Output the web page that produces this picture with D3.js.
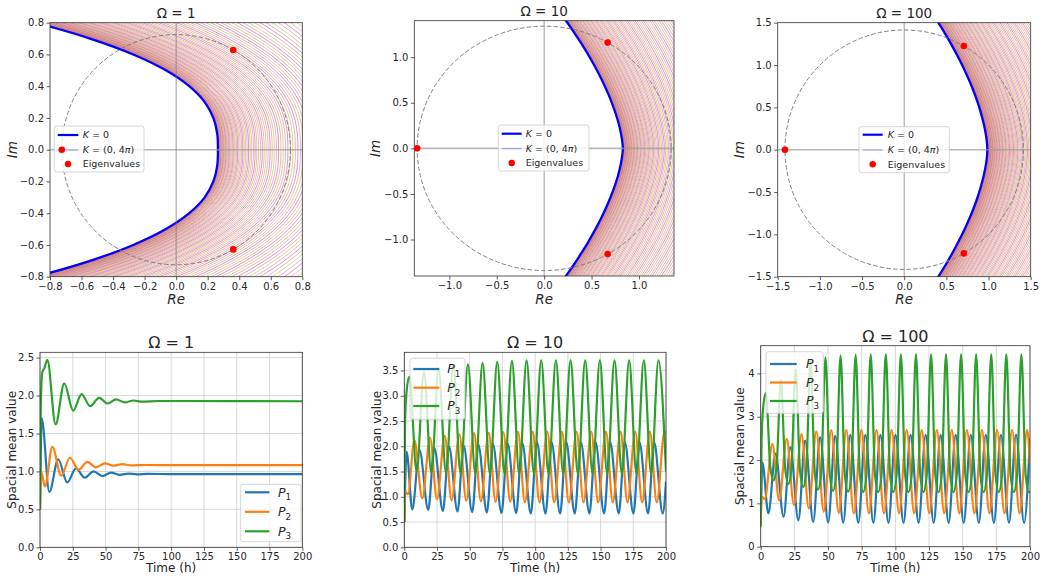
<!DOCTYPE html>
<html>
<head>
<meta charset="utf-8">
<script src="https://cdn.jsdelivr.net/npm/d3@7"></script>
<style>
  body { margin: 0; background: #fff; }
  svg text { font-family: "DejaVu Sans", sans-serif; fill: #262626; }
</style>
</head>
<body>
<div id="chart"></div>
<script>

// ---- top row: spectra (Re / Im) ----
var im1 = [-0.87,-0.8,-0.7,-0.6,-0.5,-0.4,-0.3,-0.2,-0.1,0,0.1,0.2,0.3,0.4,0.5,0.6,0.7,0.8,0.87];
var reK0_1 = [-1.18,-0.892,-0.546,-0.272,-0.065,0.083,0.181,0.236,0.2605,0.265,0.2605,0.236,0.181,0.083,-0.065,-0.272,-0.546,-0.892,-1.18];
var reOut_1 = [1.15,1.2,1.26,1.315,1.36,1.395,1.42,1.438,1.447,1.45,1.447,1.438,1.42,1.395,1.36,1.315,1.26,1.2,1.15];

var im10 = [-1.5,-1.35,-1.2,-1.05,-0.9,-0.75,-0.6,-0.45,-0.3,-0.15,0,0.15,0.3,0.45,0.6,0.75,0.9,1.05,1.2,1.35,1.5];
var reK0_10 = [0.16,0.264,0.361,0.452,0.534,0.609,0.675,0.732,0.779,0.813,0.83,0.813,0.779,0.732,0.675,0.609,0.534,0.452,0.361,0.264,0.16];
var reOut_10 = [1.5,1.595,1.68,1.755,1.82,1.875,1.92,1.955,1.98,1.995,2.0,1.995,1.98,1.955,1.92,1.875,1.82,1.755,1.68,1.595,1.5];

var im100 = [-1.6,-1.5,-1.35,-1.2,-1.05,-0.9,-0.75,-0.6,-0.45,-0.3,-0.15,0,0.15,0.3,0.45,0.6,0.75,0.9,1.05,1.2,1.35,1.5,1.6];
var reK0_100 = [0.34,0.405,0.497,0.583,0.662,0.734,0.80,0.857,0.905,0.9445,0.973,0.986,0.973,0.9445,0.905,0.857,0.80,0.734,0.662,0.583,0.497,0.405,0.34];
var reOut_100 = [1.53,1.6,1.695,1.78,1.855,1.92,1.975,2.02,2.055,2.08,2.095,2.1,2.095,2.08,2.055,2.02,1.975,1.92,1.855,1.78,1.695,1.6,1.53];

// position of each K curve between K=0 and K=4pi (0..1)
var kFrac = [.00004,.00018,.00045,.00084,.00137,.00205,.00288,.00386,.00500,.00631,.00778,.00943,.01124,.01323,
  .01540,.01774,.02027,.02299,.02589,.02898,.03227,.03575,.03943,.04331,.04737,.05164,.05610,.06078,.06565,.07073,
  .07603,.08152,.08724,.09317,.09929,.1056,.1122,.1190,.1260,.1332,.1407,.1483,.1562,.1643,.1726,.1811,.1899,
  .1989,.2082,.2176,.2273,.2372,.2474,.2578,.2684,.2793,.2904,.3016,.3132,.3250,.3371,.3493,.3618,.3746,.3876,
  .4009,.4143,.4281,.4420,.4562,.4707,.4854,.5004,.5156,.5311,.5467,.5627,.5789,.5953,.6120,.6289,.6461,.6636,
  .6813,.6994,.7175,.7360,.7547,.7738,.7930,.8126,.8324,.8524,.8727,.8932,.9139,.9351,.9566,.9780,1.0];

var eig1 = [[0.362,0.628],[0.362,-0.628],[-0.725,0]];
var eig10 = [[0.67,1.16],[0.67,-1.16],[-1.34,0]];
var eig100 = [[0.707,1.225],[0.707,-1.225],[-1.414,0]];
var circleR = [0.725, 1.34, 1.414];

var ticksTop1 = [-0.8,-0.6,-0.4,-0.2,0,0.2,0.4,0.6,0.8];
var ticksTop10 = [-1,-0.5,0,0.5,1];
var ticksTop100 = [-1.5,-1,-0.5,0,0.5,1,1.5];

// ---- bottom row: spatial mean values [t, value] ----
var timeTicks = [0,25,50,75,100,125,150,175,200];

var o1_P1 = [[0,0.5],[0.4,1.0],[1.3,1.70],[7.1,0.73],[13.9,1.16],[20.8,0.855],[27.4,1.04],[34.2,0.917],[40.8,1.0],
  [47.6,0.94],[54.2,0.985],[61,0.955],[67.5,0.972],[74,0.962],[82,0.967],[100,0.965],[200,0.965]];
var o1_P2 = [[0,0.5],[0.8,1.0],[3.8,0.80],[9.4,1.325],[16.2,0.943],[22.8,1.18],[29.4,1.02],[36,1.127],[42.8,1.053],
  [49.4,1.105],[56,1.075],[62.8,1.096],[70,1.08],[80,1.085],[100,1.083],[200,1.083]];
var o1_P3 = [[0,0.5],[0.5,1.8],[1.8,2.31],[3.3,2.36],[5.6,2.47],[11.9,1.62],[18.5,2.16],[25.3,1.80],[31.7,2.02],
  [38.2,1.86],[45.1,1.97],[51.7,1.895],[58,1.95],[64.6,1.91],[71.2,1.935],[78,1.92],[90,1.928],[200,1.925]];

var o10_P1 = [[0,0.5],[1.8,1.89],[6.1,0.75],[11.6,1.93],[18.3,0.74],[22.9,1.97],[29.5,0.72],[34.1,2.0],[40.7,0.71],
  [45.3,2.02],[51.9,0.70],[56.5,2.04],[63.1,0.69],[67.7,2.05],[74.3,0.68],[78.9,2.06],[85.5,0.68],[90.1,2.07],
  [96.7,0.67],[101.3,2.08],[107.9,0.67],[112.5,2.08],[119.1,0.67],[123.7,2.08],[130.3,0.67],[134.9,2.08],
  [141.5,0.67],[146.1,2.08],[152.7,0.67],[157.3,2.08],[163.9,0.67],[168.5,2.08],[175.1,0.67],[179.7,2.08],
  [186.3,0.67],[190.9,2.08],[197.5,0.67],[200,1.3]];
var o10_P2 = [[0,0.5],[0.7,1.1],[2.8,1.05],[7.7,2.12],[13.75,0.97],[19.65,2.17],[24.95,0.95],[30.85,2.21],
  [36.15,0.93],[42.05,2.24],[47.35,0.92],[53.25,2.26],[58.55,0.91],[64.45,2.27],[69.75,0.90],[75.65,2.28],
  [80.95,0.90],[86.85,2.29],[92.15,0.89],[98.05,2.29],[103.35,0.89],[109.25,2.29],[114.55,0.89],[120.45,2.29],
  [125.75,0.89],[131.65,2.29],[136.95,0.89],[142.85,2.29],[148.15,0.89],[154.05,2.29],[159.35,0.89],[165.25,2.29],
  [170.55,0.89],[176.45,2.29],[181.75,0.89],[187.65,2.29],[192.95,0.89],[198.85,2.29],[200,2.25]];
var o10_P3 = [[0,0.5],[0.6,2.5],[1.8,3.1],[3.85,3.38],[9.45,1.50],[15.05,3.47],[20.65,1.48],[26.25,3.53],
  [31.85,1.47],[37.45,3.58],[43.05,1.46],[48.65,3.62],[54.25,1.46],[59.85,3.65],[65.45,1.45],[71.05,3.67],
  [76.65,1.45],[82.25,3.69],[87.85,1.45],[93.45,3.70],[99.05,1.45],[104.65,3.70],[110.25,1.45],[115.85,3.70],
  [121.45,1.45],[127.05,3.70],[132.65,1.45],[138.25,3.70],[143.85,1.45],[149.45,3.70],[155.05,1.45],[160.65,3.70],
  [166.25,1.45],[171.85,3.70],[177.45,1.45],[183.05,3.70],[188.65,1.45],[194.25,3.70],[200,1.5]];

var o100_P1 = [[0,0.5],[1.2,1.95],[5.7,0.77],[11.0,2.15],[17.0,0.69],[22.0,2.3],[28.0,0.61],[33.0,2.45],[39.0,0.57],
  [44.1,2.53],[50.1,0.56],[55.3,2.56],[61.3,0.555],[66.5,2.58],[72.5,0.55],[77.7,2.58],[83.7,0.55],[88.9,2.58],
  [94.9,0.55],[100.1,2.58],[106.1,0.55],[111.3,2.58],[117.3,0.55],[122.5,2.58],[128.5,0.55],[133.6,2.58],
  [139.6,0.55],[144.8,2.58],[150.8,0.55],[156.0,2.58],[162.0,0.55],[167.2,2.58],[173.2,0.55],[178.4,2.58],
  [184.4,0.55],[189.6,2.58],[195.6,0.55],[200,2.5]];
var o100_P2 = [[0,0.5],[0.8,1.15],[3.0,1.1],[8.7,2.37],[13.7,1.07],[19.3,2.49],[24.7,0.96],[30.3,2.6],[35.7,0.88],
  [41.3,2.66],[46.8,0.81],[52.4,2.69],[58.0,0.78],[63.6,2.7],[69.2,0.77],[74.8,2.7],[80.4,0.77],[86.0,2.7],
  [91.6,0.77],[97.2,2.7],[102.8,0.77],[108.4,2.7],[114.0,0.77],[119.6,2.7],[125.2,0.77],[130.8,2.7],[136.3,0.77],
  [141.9,2.7],[147.5,0.77],[153.1,2.7],[158.7,0.77],[164.3,2.7],[169.9,0.77],[175.5,2.7],[181.1,0.77],[186.7,2.7],
  [192.3,0.77],[197.9,2.7],[200,1.9]];
var o100_P3 = [[0,0.45],[0.6,2.4],[1.8,3.2],[3.9,3.55],[7.1,1.85],[9.5,1.53],[11.8,1.85],[15.0,3.85],[18.2,1.8],
  [20.6,1.45],[22.8,1.8],[26.0,4.1],[29.2,1.75],[31.6,1.38],[33.8,1.75],[37.0,4.3],[40.2,1.7],[42.6,1.32],
  [44.9,1.7],[48.1,4.37],[51.3,1.68],[53.7,1.29],[56.1,1.68],[59.3,4.41],[62.5,1.66],[64.9,1.27],[67.3,1.66],
  [70.5,4.43],[73.7,1.65],[76.1,1.26],[78.5,1.65],[81.7,4.44],[84.9,1.65],[87.3,1.26],[89.7,1.65],[92.9,4.44],
  [96.1,1.65],[98.5,1.26],[100.9,1.65],[104.1,4.44],[107.3,1.65],[109.7,1.26],[112.1,1.65],[115.3,4.44],
  [118.5,1.65],[120.9,1.26],[123.3,1.65],[126.5,4.44],[129.7,1.65],[132.1,1.26],[134.4,1.65],[137.6,4.44],
  [140.8,1.65],[143.2,1.26],[145.6,1.65],[148.8,4.44],[152.0,1.65],[154.4,1.26],[156.8,1.65],[160.0,4.44],
  [163.2,1.65],[165.6,1.26],[168.0,1.65],[171.2,4.44],[174.4,1.65],[176.8,1.26],[179.2,1.65],[182.4,4.44],
  [185.6,1.65],[188.0,1.26],[190.4,1.65],[193.6,4.44],[196.8,1.65],[199.2,1.26],[200,1.27]];

var seriesColors = ["#1f77b4", "#ff7f0e", "#2ca02c"];
var familyColors = ["#e377c2", "#bcbd22", "#e377c2", "#c0605a"];

var svg = d3.select("#chart").append("svg")
    .attr("width", 1044)
    .attr("height", 580);
var defs = svg.append("defs");

function styleAxis(a) {
  a.attr("font-family", "DejaVu Sans").attr("font-size", null);
  a.select(".domain").remove();
  a.selectAll("line").attr("stroke", "#333").attr("stroke-width", 0.8);
  a.selectAll("text").attr("font-size", 10).attr("fill", "#262626");
}

function addAxes(g, x, y, w, h, xt, yt, xf, yf) {
  g.append("g").attr("transform", "translate(0," + h + ")")
    .call(d3.axisBottom(x).tickValues(xt).tickFormat(xf).tickSize(3.5).tickPadding(2.5))
    .call(styleAxis);
  g.append("g")
    .call(d3.axisLeft(y).tickValues(yt).tickFormat(yf).tickSize(3.5).tickPadding(2.5))
    .call(styleAxis);
  g.append("rect").attr("width", w).attr("height", h)
    .attr("fill", "none").attr("stroke", "#333").attr("stroke-width", 0.8);
}

function rich(t, parts, fs) {
  parts.forEach(function(p) {
    var s = t.append("tspan").text(p.t);
    if (p.it) s.attr("font-style", "italic");
    if (p.sub) s.attr("font-size", fs * 0.7).attr("dy", fs * 0.3);
  });
}

function legend(g, box, rows, fs) {
  g.append("rect")
    .attr("x", box[0]).attr("y", box[1]).attr("width", box[2]).attr("height", box[3])
    .attr("rx", 2.5).attr("fill", "#fff").attr("fill-opacity", 0.8)
    .attr("stroke", "#ccc").attr("stroke-width", 0.8);
  rows.forEach(function(r) {
    if (r.kind == "dot") {
      g.append("circle").attr("cx", (r.x1 + r.x2) / 2).attr("cy", r.y).attr("r", 3.2).attr("fill", r.color);
    } else {
      g.append("line").attr("x1", r.x1).attr("x2", r.x2).attr("y1", r.y).attr("y2", r.y)
        .attr("stroke", r.color).attr("stroke-width", r.sw);
    }
    var t = g.append("text").attr("x", r.tx).attr("y", r.y).attr("dy", "0.35em").attr("font-size", fs);
    rich(t, r.parts, fs);
  });
}

// ---------------- top row ----------------
var topPanels = [
  {title: "Ω = 1", left: 50, top: 22.7, w: 252.3, h: 254, xd: [-0.8, 0.8], yd: [-0.8, 0.8], ticks: ticksTop1,
   im: im1, k0: reK0_1, kOut: reOut_1, eig: eig1, r: circleR[0], imX: 12.3,
   leg: {box: [4.3, 103.3, 89.7, 46], ys: [112.3, 127.3, 141.3], x1: 7.7, x2: 28.3, tx: 32.7}},
  {title: "Ω = 10", left: 414.3, top: 20.7, w: 259.7, h: 255.3, xd: [-1.37, 1.37], yd: [-1.4, 1.4], ticks: ticksTop10,
   im: im10, k0: reK0_10, kOut: reOut_10, eig: eig10, r: circleR[1], imX: 375,
   leg: {box: [84, 104.3, 90.7, 46], ys: [113, 128, 142.3], x1: 87.4, x2: 107.4, tx: 111.4}},
  {title: "Ω = 100", left: 777.7, top: 22.7, w: 253, h: 254, xd: [-1.5, 1.5], yd: [-1.5, 1.5], ticks: ticksTop100,
   im: im100, k0: reK0_100, kOut: reOut_100, eig: eig100, r: circleR[2], imX: 739.3,
   leg: {box: [81.3, 104, 90.3, 46], ys: [112, 127.3, 141.6], x1: 85, x2: 105, tx: 110}}
];

topPanels.forEach(function(p, pi) {
  var x = d3.scaleLinear().domain(p.xd).range([0, p.w]);
  var y = d3.scaleLinear().domain(p.yd).range([p.h, 0]);
  var g = svg.append("g").attr("transform", "translate(" + p.left + "," + p.top + ")");

  defs.append("clipPath").attr("id", "clipT" + pi)
    .append("rect").attr("width", p.w).attr("height", p.h);
  var plot = g.append("g").attr("clip-path", "url(#clipT" + pi + ")");

  var line = d3.line().x(function(d) { return x(d[0]); }).y(function(d) { return y(d[1]); })
    .curve(d3.curveCatmullRom);

  // family of curves K in (0, 4pi)
  kFrac.forEach(function(f, i) {
    var pts = p.im.map(function(v, j) { return [d3.interpolateNumber(p.k0[j], p.kOut[j])(f), v]; });
    plot.append("path").attr("d", line(pts))
      .attr("fill", "none").attr("stroke", familyColors[i % familyColors.length])
      .attr("stroke-width", 0.7).attr("stroke-opacity", 0.85);
  });

  // K = 0
  plot.append("path").attr("d", line(p.im.map(function(v, j) { return [p.k0[j], v]; })))
    .attr("fill", "none").attr("stroke", "#0000ff").attr("stroke-width", 2.3);

  // zero lines
  plot.append("line").attr("x1", 0).attr("x2", p.w).attr("y1", y(0)).attr("y2", y(0))
    .attr("stroke", "#999").attr("stroke-opacity", 0.7).attr("stroke-width", 1.6);
  plot.append("line").attr("x1", x(0)).attr("x2", x(0)).attr("y1", 0).attr("y2", p.h)
    .attr("stroke", "#777").attr("stroke-opacity", 0.8).attr("stroke-width", 0.9);

  // circle through the eigenvalues
  plot.append("ellipse").attr("cx", x(0)).attr("cy", y(0))
    .attr("rx", x(p.r) - x(0)).attr("ry", y(0) - y(p.r))
    .attr("fill", "none").attr("stroke", "#808080").attr("stroke-width", 1)
    .attr("stroke-dasharray", "4.5,2.2");

  addAxes(g, x, y, p.w, p.h, p.ticks, p.ticks, d3.format(".1f"), d3.format(".1f"));

  var L = p.leg;
  legend(g, L.box, [
    {y: L.ys[0], x1: L.x1, x2: L.x2, tx: L.tx, color: "#0000ff", sw: 2.2, parts: [{t: "K", it: true}, {t: " = 0"}]},
    {y: L.ys[1], x1: L.x1, x2: L.x2, tx: L.tx, color: "#6f6fd8", sw: 0.8,
     parts: [{t: "K", it: true}, {t: " = (0, 4"}, {t: "π", it: true}, {t: ")"}]},
    {y: L.ys[2], x1: L.x1, x2: L.x2, tx: L.tx, color: "#ff0000", kind: "dot", parts: [{t: "Eigenvalues"}]}
  ], 9.5);

  // eigenvalues on top
  g.selectAll(".eig").data(p.eig).enter().append("circle")
    .attr("class", "eig")
    .attr("cx", function(d) { return x(d[0]); })
    .attr("cy", function(d) { return y(d[1]); })
    .attr("r", 3.3).attr("fill", "#ff0000");

  g.append("text").attr("x", p.w / 2).attr("y", -4.3).attr("text-anchor", "middle")
    .attr("font-size", 13.5).text(p.title);
  g.append("text").attr("x", p.w / 2).attr("y", 304 - p.top)
    .attr("text-anchor", "middle").attr("font-size", 13.5).attr("font-style", "italic").text("Re");
  svg.append("text").attr("transform", "translate(" + (p.imX + 4.5) + "," + (p.top + p.h / 2) + ") rotate(-90)")
    .attr("text-anchor", "middle").attr("font-size", 13.5).attr("font-style", "italic").text("Im");
});

// ---------------- bottom row ----------------
var botPanels = [
  {title: "Ω = 1", left: 40, top: 352.3, w: 262.3, h: 195, ymax: 2.57, yt: [0,0.5,1,1.5,2,2.5], yf: d3.format(".1f"),
   data: [o1_P1, o1_P2, o1_P3], ylabX: 11.7,
   leg: {box: [200.7, 132, 60.3, 57.4], ys: [140, 159.5, 179], x1: 205, x2: 229.3, tx: 238}},
  {title: "Ω = 10", left: 404.3, top: 352.3, w: 261.7, h: 195, ymax: 3.86, yt: [0,0.5,1,1.5,2,2.5,3,3.5], yf: d3.format(".1f"),
   data: [o10_P1, o10_P2, o10_P3], ylabX: 376.7,
   leg: {box: [5.7, 6, 55, 61], ys: [16.7, 35.4, 53.7], x1: 9, x2: 35, tx: 43}},
  {title: "Ω = 100", left: 760.7, top: 345.7, w: 269.3, h: 201, ymax: 4.64, yt: [0,1,2,3,4], yf: d3.format("d"),
   data: [o100_P1, o100_P2, o100_P3], ylabX: 740,
   leg: {box: [5.3, 6, 57.3, 61.6], ys: [18.3, 36.8, 55.3], x1: 9.3, x2: 36, tx: 45.3}}
];

botPanels.forEach(function(p, pi) {
  var x = d3.scaleLinear().domain([0, 200]).range([0, p.w]);
  var y = d3.scaleLinear().domain([0, p.ymax]).range([p.h, 0]);
  var g = svg.append("g").attr("transform", "translate(" + p.left + "," + p.top + ")");

  // grid
  g.append("g").selectAll("line").data(timeTicks).enter().append("line")
    .attr("x1", function(d) { return x(d); }).attr("x2", function(d) { return x(d); })
    .attr("y1", 0).attr("y2", p.h).attr("stroke", "#d4d4d4").attr("stroke-width", 0.9);
  g.append("g").selectAll("line").data(p.yt).enter().append("line")
    .attr("y1", function(d) { return y(d); }).attr("y2", function(d) { return y(d); })
    .attr("x1", 0).attr("x2", p.w).attr("stroke", "#d4d4d4").attr("stroke-width", 0.9);

  defs.append("clipPath").attr("id", "clipB" + pi)
    .append("rect").attr("width", p.w).attr("height", p.h);
  var plot = g.append("g").attr("clip-path", "url(#clipB" + pi + ")");

  var line = d3.line().x(function(d) { return x(d[0]); }).y(function(d) { return y(d[1]); })
    .curve(d3.curveMonotoneX);

  p.data.forEach(function(s, i) {
    plot.append("path").attr("d", line(s))
      .attr("fill", "none").attr("stroke", seriesColors[i]).attr("stroke-width", 2.2)
      .attr("stroke-linejoin", "round");
  });

  addAxes(g, x, y, p.w, p.h, timeTicks, p.yt, d3.format("d"), p.yf);

  var L = p.leg;
  legend(g, L.box, [1, 2, 3].map(function(k, i) {
    return {y: L.ys[i], x1: L.x1, x2: L.x2, tx: L.tx, color: seriesColors[i], sw: 2.2,
            parts: [{t: "P", it: true}, {t: String(k), sub: true}]};
  }), 12.5);

  g.append("text").attr("x", p.w / 2).attr("y", -4).attr("text-anchor", "middle")
    .attr("font-size", 16).text(p.title);
  svg.append("text").attr("x", p.left + p.w / 2).attr("y", 571.5)
    .attr("text-anchor", "middle").attr("font-size", 12).text("Time (h)");
  svg.append("text").attr("transform", "translate(" + (p.ylabX + 4.2) + "," + (p.top + p.h / 2) + ") rotate(-90)")
    .attr("text-anchor", "middle").attr("font-size", 12).text("Spacial mean value");
});

</script>
</body>
</html>
